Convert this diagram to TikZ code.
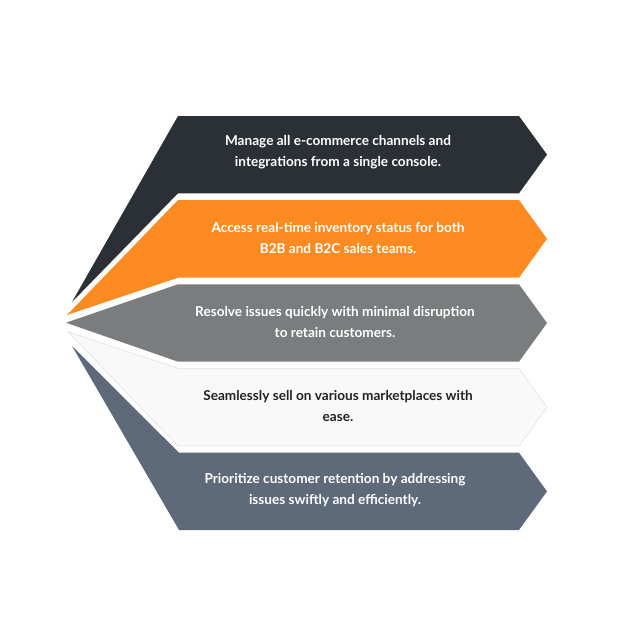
\documentclass[tikz,border=0pt]{standalone}
\usepackage{fontspec}
\setmainfont{Lato}
\definecolor{cdark}{HTML}{2B2F36}
\definecolor{corange}{HTML}{FD8B22}
\definecolor{cgray}{HTML}{7B7C7E}
\definecolor{clight}{HTML}{F9F9F9}
\definecolor{clightline}{HTML}{E2E2E2}
\definecolor{cslate}{HTML}{5E6A7A}
\definecolor{ctext}{HTML}{222222}
\begin{document}
\begin{tikzpicture}[x=1pt,y=-1pt,
  lbl/.style={align=center,font=\fontsize{13.6}{20.5}\selectfont\bfseries,inner sep=0pt}]
\useasboundingbox (0,0) rectangle (632,632);
% band 1
\fill[cdark] (72,302) -- (178,116) -- (519,116) -- (547,154.6) -- (519,193.3) -- (178,193.3) -- cycle;
% band 2
\fill[corange] (67,315) -- (178,200) -- (519,200) -- (547,238.8) -- (519,277.7) -- (178,277.7) -- cycle;
% band 3
\fill[cgray] (66,322.7) -- (178,284.3) -- (519,284.3) -- (547,323) -- (519,361.7) -- (178,361.7) -- cycle;
% band 4
\filldraw[fill=clight,draw=clightline,line width=0.6pt] (68,331.7) -- (178,368.3) -- (519,368.3) -- (547,407.2) -- (519,446) -- (178,446) -- cycle;
% band 5
\fill[cslate] (72,346) -- (179,452.7) -- (519,452.7) -- (547,491.4) -- (519,530) -- (179,530) -- cycle;
\node[lbl,text=white] (t1) at (338,152) {Manage all e-commerce channels and\\integrations from a single console.};
\node[lbl,text=white] (t2) at (338,238) {Access real-time inventory status for both\\B2B and B2C sales teams.};
\node[lbl,text=white] (t3) at (335,322) {Resolve issues quickly with minimal disruption\\to retain customers.};
\node[lbl,text=ctext] (t4) at (338,406) {Seamlessly sell on various marketplaces with\\ease.};
\node[lbl,text=white] (t5) at (335,490) {Prioritize customer retention by addressing\\issues swiftly and efficiently.};
\end{tikzpicture}
\end{document}
